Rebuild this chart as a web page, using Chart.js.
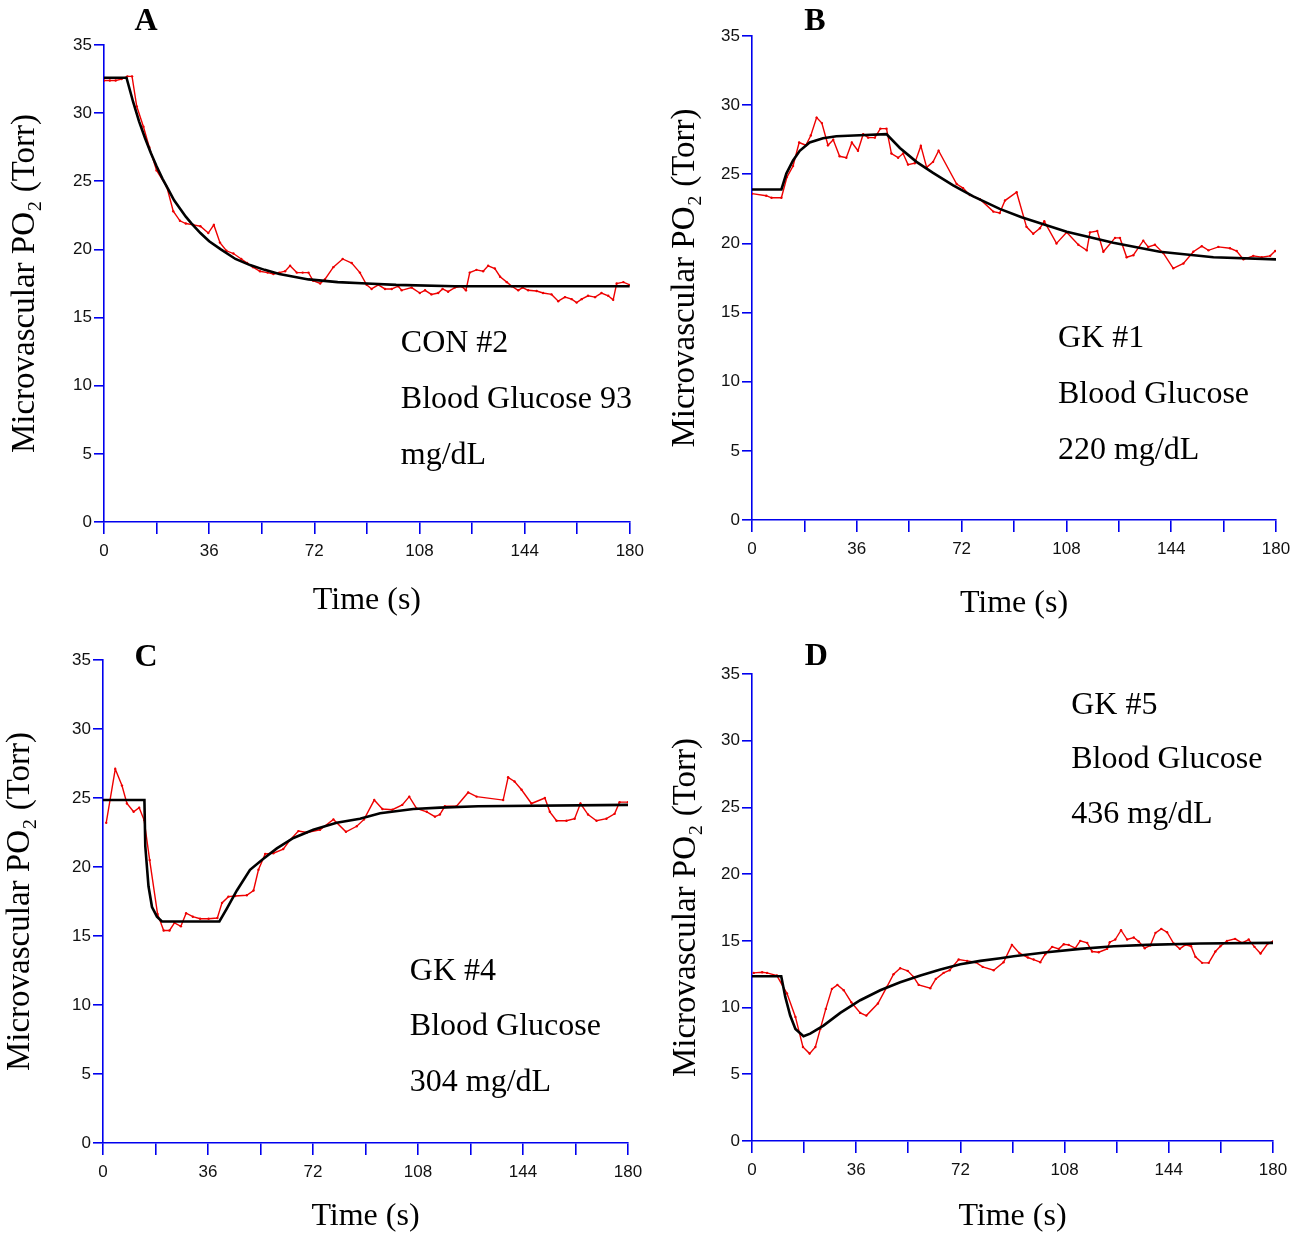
<!DOCTYPE html>
<html>
<head>
<meta charset="utf-8">
<title>Microvascular PO2</title>
<script src="https://cdn.jsdelivr.net/npm/chart.js@4.4.1/dist/chart.umd.min.js"></script>
<style>
	html, body { margin: 0; padding: 0; background: #fff; overflow: hidden; }
	body { width: 1302px; height: 1237px; position: relative; }
	canvas { position: absolute; }
</style>
</head>
<body>
<canvas id="panel-a"></canvas>
<canvas id="panel-b"></canvas>
<canvas id="panel-c"></canvas>
<canvas id="panel-d"></canvas>

<script>
// :: 1.0 Data (time in s, PO2 in Torr)
// :: 2.0 Text plugin
// :: 3.0 Panels

// :: 1.0 Data
var xTicks = [0, 36, 72, 108, 144, 180];
var yTicks = [0, 5, 10, 15, 20, 25, 30, 35];

// A - CON #2
var aRedT = [0, 2, 4, 6, 8, 9.6, 11.2, 13.5, 15.5, 18, 21.5, 23.7, 26, 28, 30.6, 33, 35.7, 37.6, 39.7, 41.9, 44.3, 47, 49, 51, 53.4, 56, 58, 60, 62, 63.7, 66, 68, 70, 71.6, 74, 75.6, 78.5, 81.7, 84.8, 87.6, 89.9, 91.6, 93.9, 96.2, 98.5, 100.7, 101.9, 105.3, 108.1, 109.9, 112.1, 114.4, 115.9, 117.8, 120.1, 122.4, 123.9, 125.2, 127.5, 129.8, 131.5, 133.8, 135.6, 137.9, 139.6, 141.8, 143.3, 145.2, 148.1, 150.3, 153.2, 155.5, 157.8, 160.1, 161.8, 163.5, 165.7, 168.1, 170.3, 172.6, 174.3, 175.5, 177.8, 180];
var aRedV = [32.4, 32.4, 32.4, 32.5, 32.7, 32.7, 30.5, 29.0, 27.5, 25.8, 24.6, 22.8, 22.1, 21.9, 21.8, 21.7, 21.2, 21.8, 20.5, 19.9, 19.7, 19.3, 19.0, 18.7, 18.4, 18.3, 18.2, 18.3, 18.4, 18.8, 18.3, 18.3, 18.3, 17.7, 17.5, 17.8, 18.7, 19.3, 19.0, 18.3, 17.4, 17.1, 17.4, 17.1, 17.1, 17.3, 17.0, 17.2, 16.8, 17.0, 16.7, 16.8, 17.1, 16.9, 17.2, 17.3, 17.0, 18.3, 18.5, 18.4, 18.8, 18.6, 18.0, 17.6, 17.3, 17.0, 17.2, 17.0, 16.95, 16.8, 16.7, 16.2, 16.5, 16.35, 16.1, 16.35, 16.6, 16.5, 16.8, 16.6, 16.3, 17.5, 17.6, 17.4];
var aFitT = [0, 7.7, 10, 12, 14, 16, 18, 20, 22, 24, 26, 28, 30, 33, 36, 40, 45, 50, 55, 60, 65, 70, 80, 90, 100, 120, 150, 180];
var aFitV = [32.6, 32.6, 30.8, 29.4, 28.2, 27.1, 26.1, 25.2, 24.4, 23.6, 23.0, 22.4, 21.9, 21.2, 20.6, 20.0, 19.3, 18.85, 18.5, 18.2, 18.0, 17.8, 17.6, 17.5, 17.4, 17.3, 17.3, 17.3];

// B - GK #1
var bRedT = [0, 4.9, 6.7, 10.1, 12, 14.1, 16.2, 18.5, 20.2, 22.2, 24, 26.1, 27.9, 30.1, 32.4, 34.3, 36.4, 38.2, 39.9, 42.2, 44.1, 46.2, 47.9, 50.2, 51.9, 53.6, 55.9, 58, 60, 62.2, 64.1, 70.3, 72.5, 74.8, 78.3, 82.9, 85.1, 86.9, 90.9, 94.3, 96.6, 98.9, 100.4, 104.6, 108.1, 112.1, 115, 116.1, 118.6, 120.7, 124.7, 126.4, 128.7, 131, 134.4, 136.1, 138.4, 141.3, 144.7, 148.2, 151.6, 154.5, 156.8, 160.2, 164.2, 166.5, 168.8, 172.2, 175.1, 178, 179.7];
var bRedV = [23.6, 23.45, 23.3, 23.3, 24.8, 25.6, 27.3, 27.1, 27.8, 29.1, 28.7, 27.1, 27.5, 26.3, 26.2, 27.3, 26.7, 27.9, 27.65, 27.65, 28.3, 28.3, 26.5, 26.2, 26.5, 25.7, 25.8, 27.05, 25.5, 25.9, 26.7, 24.3, 24.0, 23.5, 23.2, 22.3, 22.2, 23.1, 23.7, 21.2, 20.7, 21.1, 21.6, 20.0, 20.8, 19.9, 19.5, 20.8, 20.9, 19.4, 20.4, 20.4, 19.0, 19.15, 20.2, 19.75, 19.9, 19.3, 18.2, 18.55, 19.4, 19.8, 19.5, 19.75, 19.65, 19.45, 18.85, 19.1, 19.0, 19.1, 19.45];
var bFitT = [0, 10.1, 11.8, 14.1, 16.4, 19.8, 24.4, 29, 35, 46.2, 50.8, 56.5, 62.2, 69.1, 76, 85.1, 92.6, 108.1, 124.1, 140.1, 158.5, 180];
var bFitV = [23.9, 23.9, 25.05, 26.0, 26.7, 27.3, 27.6, 27.75, 27.8, 27.9, 26.9, 25.9, 25.1, 24.2, 23.4, 22.5, 21.9, 20.85, 20.05, 19.4, 19.0, 18.85];

// C - GK #4
var cRedT = [1.1, 4.2, 6.5, 8.2, 10.5, 12.4, 14.1, 16, 18.7, 20.8, 22.8, 24.5, 26.7, 28.5, 30.8, 33.3, 36.2, 39.2, 40.8, 43, 45.3, 49.3, 51.6, 53.3, 55.6, 58.4, 61.8, 64.1, 67, 69.9, 74.4, 79, 83.3, 87, 89.5, 93, 95.8, 99.2, 102.6, 105, 107.5, 111, 113.8, 115.5, 117.2, 121.2, 125.2, 128.1, 137.2, 138.9, 141.1, 143.5, 146.9, 151.5, 153.2, 155.5, 158.9, 161.7, 163.7, 166.3, 169.2, 172.6, 175.4, 177.1, 180];
var cRedV = [23.2, 27.1, 25.9, 24.6, 24.0, 24.3, 23.4, 20.5, 16.6, 15.4, 15.4, 15.95, 15.7, 16.65, 16.4, 16.25, 16.25, 16.3, 17.4, 17.85, 17.9, 17.95, 18.3, 19.8, 20.95, 21.0, 21.3, 21.95, 22.6, 22.5, 22.7, 23.45, 22.55, 22.95, 23.45, 24.85, 24.2, 24.15, 24.5, 25.1, 24.25, 24.0, 23.65, 23.8, 24.4, 24.4, 25.4, 25.1, 24.85, 26.5, 26.2, 25.6, 24.6, 25.0, 24.0, 23.35, 23.35, 23.5, 24.6, 23.8, 23.35, 23.5, 23.85, 24.7, 24.7];
var cFitT = [0, 14.2, 14.5, 15.6, 16.8, 18.5, 20.2, 39.9, 42.5, 45.9, 50.4, 55, 59.6, 65.3, 72.1, 80.1, 88.1, 95, 106.4, 115.5, 128.6, 180];
var cFitV = [24.85, 24.85, 21.5, 18.6, 17.1, 16.4, 16.05, 16.05, 17.0, 18.3, 19.8, 20.6, 21.35, 22.1, 22.7, 23.2, 23.5, 23.9, 24.2, 24.3, 24.4, 24.5];

// D - GK #5
var dRedT = [0.6, 3.5, 5.2, 8.6, 12.1, 15, 17.6, 19.9, 21.9, 23.6, 25.5, 27.6, 29.5, 31.7, 34.3, 37.4, 39.5, 43.5, 46.6, 48.9, 51.2, 53.8, 55.8, 57.6, 61.6, 63.5, 66.2, 68.3, 71.4, 74.3, 77.2, 79.7, 83.5, 86.9, 89.8, 92.3, 95.3, 97.3, 99.6, 101.3, 103.7, 106, 107.7, 109.4, 111.7, 113.4, 115.8, 117.5, 119.8, 122.7, 123.6, 125.5, 127.5, 129.6, 131.9, 133.6, 135.7, 137.6, 139.4, 141.4, 143.4, 145.7, 147.8, 149.7, 151.7, 153.2, 155.5, 157.8, 160.1, 161.8, 164.1, 166.9, 169.3, 171.6, 173.6, 175.7, 178.2, 180];
var dRedV = [12.6, 12.65, 12.6, 12.4, 11.05, 9.3, 7.05, 6.55, 7.05, 8.4, 9.9, 11.4, 11.7, 11.3, 10.4, 9.6, 9.4, 10.3, 11.55, 12.5, 12.95, 12.75, 12.3, 11.7, 11.45, 12.15, 12.6, 12.8, 13.6, 13.5, 13.4, 13.05, 12.8, 13.4, 14.7, 14.1, 13.75, 13.6, 13.4, 14.0, 14.55, 14.4, 14.75, 14.7, 14.45, 15.0, 14.85, 14.2, 14.15, 14.4, 14.9, 15.1, 15.8, 15.1, 15.25, 14.95, 14.45, 14.65, 15.6, 15.9, 15.65, 14.8, 14.4, 14.7, 14.6, 13.8, 13.35, 13.35, 14.2, 14.6, 15.0, 15.15, 14.85, 15.1, 14.55, 14.05, 14.8, 14.95];
var dFitT = [0, 10.1, 11.5, 13.2, 15, 17.8, 20.1, 24.7, 30.5, 37.4, 44.3, 51.2, 58.2, 65.1, 72, 78.9, 85.8, 90.4, 101.9, 113.4, 125, 136.5, 154.9, 180];
var dFitV = [12.35, 12.35, 10.8, 9.4, 8.4, 7.85, 8.05, 8.65, 9.6, 10.55, 11.3, 11.9, 12.4, 12.85, 13.25, 13.5, 13.7, 13.85, 14.15, 14.4, 14.6, 14.7, 14.8, 14.85];

(function () {
	'use strict';

	var AXIS_BLUE = '#0000ee';
	var RED = '#ee0000';
	var SERIF = '"Liberation Serif", "Times New Roman", serif';
	var SANS = '"Liberation Sans", Arial, sans-serif';

	function pairs(ts, vs) {
		return ts.map(function (t, i) {
			return { x: t, y: vs[i] };
		});
	}

	// :: 2.0 Text plugin - panel letter + sample notes, placed in data coords
	var notesPlugin = {
		id: 'notes',
		afterDraw: function (chart, args, opts) {
			var ctx = chart.ctx;
			var sx = chart.scales.x;
			var sy = chart.scales.y;
			ctx.save();
			ctx.fillStyle = '#000';
			ctx.textBaseline = 'middle';

			ctx.font = 'bold 32px ' + SERIF;
			ctx.textAlign = 'center';
			ctx.fillText(opts.letter, sx.getPixelForValue(opts.letterAt[0]), sy.getPixelForValue(opts.letterAt[1]));

			ctx.font = '32px ' + SERIF;
			ctx.textAlign = 'left';
			opts.lines.forEach(function (line, i) {
				ctx.fillText(line, sx.getPixelForValue(opts.notesX), sy.getPixelForValue(opts.notesY[i]));
			});
			ctx.restore();
		}
	};

	// :: 3.0 Panels
	function makePanel(id, box, redT, redV, fitT, fitV, notes) {
		var canvas = document.getElementById(id);
		canvas.width = box.w;
		canvas.height = box.h;
		canvas.style.left = box.left + 'px';
		canvas.style.top = box.top + 'px';

		return new Chart(canvas.getContext('2d'), {
			type: 'line',
			data: {
				datasets: [{
					label: 'fit',
					data: pairs(fitT, fitV),
					borderColor: '#000',
					borderWidth: 2.6,
					pointRadius: 0,
					tension: 0
				}, {
					label: 'PO2',
					data: pairs(redT, redV),
					borderColor: RED,
					borderWidth: 1.4,
					pointRadius: 1.2,
					pointBorderWidth: 0,
					pointBackgroundColor: RED,
					tension: 0
				}]
			},
			options: {
				responsive: false,
				animation: false,
				devicePixelRatio: 1,
				layout: {
					padding: { left: 0, top: box.padTop, right: box.padRight, bottom: 0 }
				},
				scales: {
					x: {
						type: 'linear',
						min: 0,
						max: 180,
						border: { color: AXIS_BLUE, width: 1.6 },
						grid: { drawOnChartArea: false, color: AXIS_BLUE, lineWidth: 1.6, tickLength: 12 },
						ticks: {
							stepSize: 18,
							autoSkip: false,
							maxRotation: 0,
							padding: 7,
							color: '#111',
							font: { family: SANS, size: 17 },
							callback: function (v) {
								return xTicks.indexOf(v) > -1 ? String(v) : '';
							}
						},
						title: {
							display: true,
							text: 'Time (s)',
							color: '#000',
							font: { family: SERIF, size: 32 },
							padding: 0
						},
						afterFit: function (scale) {
							scale.height = box.xAxisH;
						}
					},
					y: {
						type: 'linear',
						min: 0,
						max: 35,
						border: { color: AXIS_BLUE, width: 1.6 },
						grid: { drawOnChartArea: false, color: AXIS_BLUE, lineWidth: 1.6, tickLength: 10 },
						ticks: {
							stepSize: 5,
							padding: 2,
							color: '#111',
							font: { family: SANS, size: 17 },
							callback: function (v) {
								return yTicks.indexOf(v) > -1 ? String(v) : '';
							}
						},
						title: {
							display: true,
							text: 'Microvascular PO\u2082 (Torr)',
							color: '#000',
							font: { family: SERIF, size: 33 },
							padding: { top: box.yTitlePad, bottom: 0 }
						},
						afterFit: function (scale) {
							scale.width = box.yAxisW;
						}
					}
				},
				plugins: {
					legend: { display: false },
					tooltip: { enabled: false },
					notes: notes
				}
			},
			plugins: [notesPlugin]
		});
	}

	makePanel('panel-a',
		{ left: 0, top: 0, w: 651, h: 620, padTop: 45, padRight: 21, yAxisW: 104, xAxisH: 98, yTitlePad: 6 },
		aRedT, aRedV, aFitT, aFitV,
		{ letter: 'A', letterAt: [14.4, 36.7], notesX: 101.6, notesY: [13.1, 9.0, 4.9], lines: ['CON #2', 'Blood Glucose 93', 'mg/dL'] });

	makePanel('panel-b',
		{ left: 651, top: 0, w: 651, h: 623, padTop: 36, padRight: 26, yAxisW: 101, xAxisH: 103, yTitlePad: 15 },
		bRedT, bRedV, bFitT, bFitV,
		{ letter: 'B', letterAt: [21.6, 36.0], notesX: 105.1, notesY: [13.1, 9.1, 5.05], lines: ['GK #1', 'Blood Glucose', '220 mg/dL'] });

	makePanel('panel-c',
		{ left: 0, top: 618, w: 651, h: 618, padTop: 42, padRight: 23, yAxisW: 103, xAxisH: 93, yTitlePad: 1 },
		cRedT, cRedV, cFitT, cFitV,
		{ letter: 'C', letterAt: [14.8, 35.2], notesX: 105.2, notesY: [12.45, 8.4, 4.35], lines: ['GK #4', 'Blood Glucose', '304 mg/dL'] });

	makePanel('panel-d',
		{ left: 651, top: 618, w: 651, h: 618, padTop: 56, padRight: 29, yAxisW: 101, xAxisH: 95, yTitlePad: 16 },
		dRedT, dRedV, dFitT, dFitV,
		{ letter: 'D', letterAt: [22.2, 36.3], notesX: 110.3, notesY: [32.65, 28.55, 24.45], lines: ['GK #5', 'Blood Glucose', '436 mg/dL'] });

}());
</script>
</body>
</html>
